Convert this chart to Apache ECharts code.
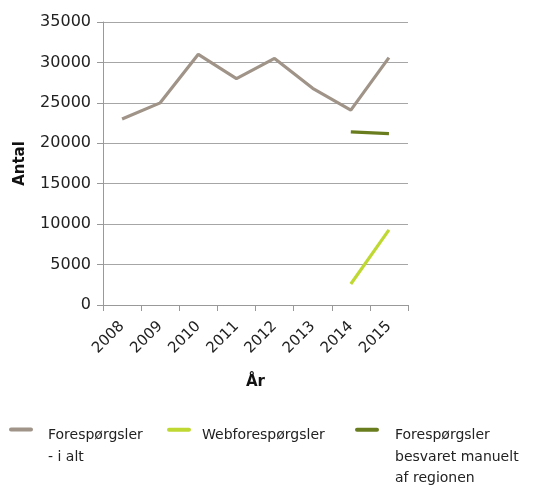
<!DOCTYPE html>
<html>
<head>
<meta charset="utf-8">
<script src="https://cdn.jsdelivr.net/npm/echarts@6/dist/echarts.min.js"></script>
<style>
    html, body { margin: 0; padding: 0; background: #fff; }
    #chart { width: 537px; height: 487px; }
</style>
</head>
<body>
<div id="chart"></div>
<script>
    // data
    var years = ['2008', '2009', '2010', '2011', '2012', '2013', '2014', '2015'];
    var totalRequests = [23000, 25000, 31000, 28000, 30500, 26800, 24100, 30600];
    var webRequests = [null, null, null, null, null, null, 2600, 9300];
    var manualRequests = [null, null, null, null, null, null, 21400, 21200];
    var yTicks = [0, 5000, 10000, 15000, 20000, 25000, 30000, 35000];

    var seriesNames = ['Forespørgsler\n- i alt', 'Webforespørgsler', 'Forespørgsler\nbesvaret manuelt\naf regionen'];
    var colors = ['#a09489', '#c0d832', '#6a7d1e'];

    var font = 'DejaVu Sans';

    // rounded bar on top of a (invisible) box of w x h, so the text sits below the bar
    function legendIcon(w, h) {
        return 'path://M2,0L22,0A2,2,0,0,1,22,4L2,4A2,2,0,0,1,2,0Z' +
            'M0,' + h + 'L' + w + ',' + h + 'Z';
    }

    function makeLegend(name, left, w, h) {
        return {
            data: [name],
            left: left,
            top: 425,
            icon: legendIcon(w, h),
            itemWidth: w,
            itemHeight: h,
            selectedMode: false,
            padding: 0,
            itemStyle: { borderWidth: 0 },
            textStyle: {
                fontFamily: font,
                fontSize: 14,
                color: '#222',
                lineHeight: 21.5
            }
        };
    }

    var option = {
        animation: false,
        color: colors,
        legend: [
            makeLegend(seriesNames[0], 9, 34, 38),
            makeLegend(seriesNames[1], 167, 30, 16),
            makeLegend(seriesNames[2], 355, 35, 59)
        ],
        grid: {
            left: 103,
            right: 129,
            top: 22,
            bottom: 182
        },
        xAxis: {
            type: 'category',
            data: years,
            boundaryGap: true,
            name: 'År',
            nameLocation: 'middle',
            nameGap: 70,
            nameTextStyle: { fontFamily: font, fontSize: 15, fontWeight: 'bold', color: '#111' },
            axisLine: { lineStyle: { color: '#999', width: 1 } },
            axisTick: { show: true, length: 6, lineStyle: { color: '#999' } },
            axisLabel: {
                rotate: 45,
                fontFamily: font,
                fontSize: 15,
                color: '#222',
                margin: 19
            }
        },
        yAxis: {
            type: 'value',
            min: yTicks[0],
            max: yTicks[yTicks.length - 1],
            interval: yTicks[1] - yTicks[0],
            name: 'Antal',
            nameLocation: 'middle',
            nameGap: 75,
            nameRotate: 90,
            nameTextStyle: { fontFamily: font, fontSize: 15, fontWeight: 'bold', color: '#111' },
            axisLine: { show: true, lineStyle: { color: '#999', width: 1 } },
            axisTick: { show: true, length: 6, lineStyle: { color: '#999' } },
            axisLabel: {
                fontFamily: font,
                fontSize: 16,
                color: '#222',
                margin: 12,
                formatter: function (value) {
                    return String(value);
                }
            },
            splitLine: { lineStyle: { color: '#a6a6a6', width: 1 } }
        },
        series: [
            {
                name: seriesNames[0],
                type: 'line',
                data: totalRequests,
                symbol: 'none',
                lineStyle: { width: 3.2, color: colors[0] }
            },
            {
                name: seriesNames[1],
                type: 'line',
                data: webRequests,
                symbol: 'none',
                lineStyle: { width: 3.2, color: colors[1] }
            },
            {
                name: seriesNames[2],
                type: 'line',
                data: manualRequests,
                symbol: 'none',
                lineStyle: { width: 3.2, color: colors[2] }
            }
        ]
    };

    var myChart = echarts.init(document.getElementById('chart'));
    myChart.setOption(option);
</script>
</body>
</html>
